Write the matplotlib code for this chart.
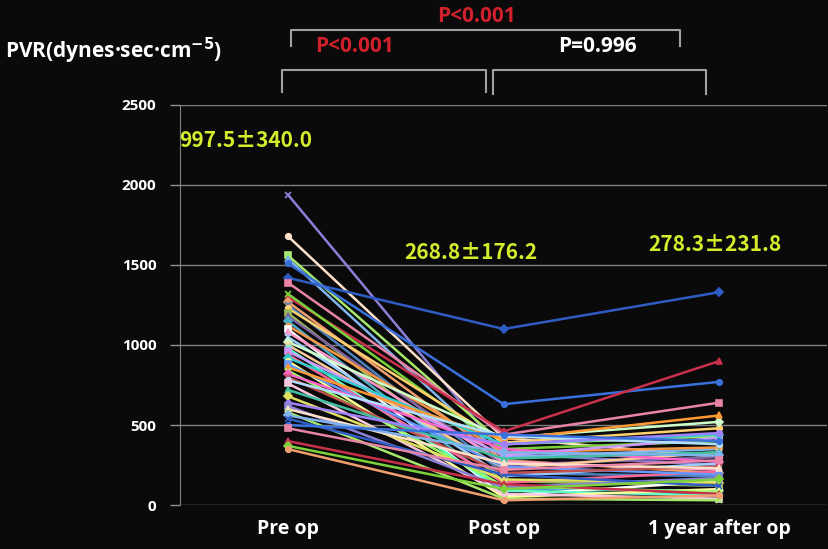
import matplotlib.pyplot as plt
from matplotlib.lines import Line2D

# PVR of each patient at the three time points
pre_op = [1940, 1680, 1560, 1540, 1420, 1510, 1390, 1300, 1320, 1270,
          1250, 1230, 1200, 1180, 1150, 1120, 1100, 1080, 1050, 1020,
          1000, 980, 960, 940, 920, 900, 880, 860, 840, 820,
          800, 780, 760, 720, 680, 640, 620, 600, 580, 560,
          540, 500, 480, 400, 370, 350]
post_op = [320, 420, 380, 300, 1100, 630, 440, 460, 350, 280,
           200, 390, 150, 250, 100, 330, 60, 270, 180, 420,
           230, 90, 310, 140, 380, 50, 240, 410, 120, 350,
           200, 430, 70, 290, 160, 380, 110, 260, 40, 330,
           190, 440, 220, 130, 100, 30]
one_year = [250, 300, 430, 350, 1330, 770, 640, 900, 400, 200,
            180, 480, 120, 300, 90, 360, 150, 220, 260, 520,
            330, 60, 420, 210, 440, 100, 190, 560, 80, 270,
            240, 380, 40, 330, 140, 450, 170, 230, 30, 310,
            120, 400, 280, 70, 160, 60]
categories = ['Pre op', 'Post op', '1 year after op']
mean_labels = ['997.5\u00b1340.0', '268.8\u00b1176.2', '278.3\u00b1231.8']

colors = ['#8a80d8', '#ffe0c8', '#a6e86a', '#80b4ec', '#2f5cc4', '#3a70dc',
          '#e884a8', '#c8304c', '#7cd23c', '#f0a070', '#4f81bd', '#ffd070',
          '#9bbb59', '#8064a2', '#4bacc6', '#f79646', '#ffffff', '#ff99cc',
          '#99ccff', '#ccffcc', '#ffcc99', '#66ffcc', '#cc99ff', '#ff6699',
          '#33cccc', '#ffff99', '#6699ff', '#ff9933', '#99ff66', '#ff66cc',
          '#c0504d', '#b0e0ff', '#f8c8e0', '#40c0a0', '#e0e060', '#a080ff']
markers = ['x', 'o', 's', '^', 'D', 'o', 's', '^', 'x', 'D']

plt.rcParams['font.family'] = ['Open Sans', 'DejaVu Sans']
plt.rcParams['font.weight'] = 'bold'

fig = plt.figure(figsize=(8.29, 5.49), dpi=100, facecolor='#0a0a0a')
ax = fig.add_axes([0.217, 0.080, 0.781, 0.729], facecolor='#0a0a0a')

xs = range(len(categories))
for i in range(len(pre_op)):
    ax.plot(xs, [pre_op[i], post_op[i], one_year[i]],
            color=colors[i % len(colors)], lw=1.8,
            marker=markers[i % len(markers)], ms=4, mew=1.2, zorder=3)

ax.set_xlim(-0.5, 2.5)
ax.set_ylim(0, 2500)
ax.set_yticks(range(0, 2501, 500))
ax.set_xticks(list(xs))
ax.set_xticklabels(categories, fontsize=14, color='white', fontweight='bold')
ax.tick_params(axis='x', length=0, pad=10)
ax.tick_params(axis='y', colors='#909090', labelcolor='white', labelsize=11,
               length=7, width=1, pad=10)
for lab in ax.get_yticklabels():
    lab.set_fontweight('bold')
ax.grid(axis='y', color='#808080', lw=1, zorder=1)
for s in ['top', 'right', 'bottom']:
    ax.spines[s].set_visible(False)
ax.spines['left'].set_color('#808080')

ycol = '#d4ec2c'
cjk = ['Noto Sans CJK JP', 'DejaVu Sans']
ax.text(-0.195, 2280, mean_labels[0], color=ycol, fontsize=15, ha='center', va='center', family=cjk)
ax.text(0.85, 1575, mean_labels[1], color=ycol, fontsize=15, ha='center', va='center', family=cjk)
ax.text(1.98, 1630, mean_labels[2], color=ycol, fontsize=15, ha='center', va='center', family=cjk)

fig.text(0.006, 0.908, 'PVR(dynes\u00b7sec\u00b7cm$^{-5}$)', color='white',
         fontsize=15, ha='left', va='center')

# significance brackets (figure pixels)
W, H = 829, 549
def bracket(x0, x1, ytop, ybot):
    fig.add_artist(Line2D([x0 / W, x0 / W, x1 / W, x1 / W],
                          [1 - ybot / H, 1 - ytop / H, 1 - ytop / H, 1 - ybot / H],
                          color='#a0a0a0', lw=1.5))

bracket(282, 486, 70, 92)
bracket(493, 706, 70, 94)
bracket(291, 680, 30, 46)

fig.text(477 / W, 1 - 17 / H, 'P<0.001', color='#d0202c', fontsize=15, ha='center', va='center')
fig.text(355 / W, 1 - 46 / H, 'P<0.001', color='#d0202c', fontsize=15, ha='center', va='center')
fig.text(597 / W, 1 - 46 / H, 'P=0.996', color='white', fontsize=15, ha='center', va='center')

fig.savefig('out.png', dpi=100, facecolor=fig.get_facecolor())
